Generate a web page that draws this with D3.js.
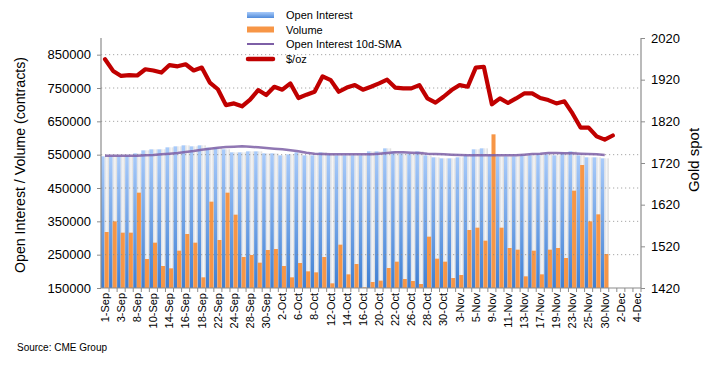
<!DOCTYPE html>
<html><head><meta charset="utf-8">
<script src="https://cdn.jsdelivr.net/npm/d3@7"></script>
<style>
body{margin:0;background:#fff;}
svg text{font-family:"Liberation Sans",Arial,sans-serif;fill:#000;}
</style></head>
<body><svg id="c" width="713" height="370"></svg>
<script>
const dates = ["1-Sep","2-Sep","3-Sep","4-Sep","8-Sep","9-Sep","10-Sep","11-Sep","14-Sep","15-Sep","16-Sep","17-Sep","18-Sep","21-Sep","22-Sep","23-Sep","24-Sep","25-Sep","28-Sep","29-Sep","30-Sep",
"1-Oct","2-Oct","5-Oct","6-Oct","7-Oct","8-Oct","9-Oct","12-Oct","13-Oct","14-Oct","15-Oct","16-Oct","19-Oct","20-Oct","21-Oct","22-Oct","23-Oct","26-Oct","27-Oct","28-Oct","29-Oct","30-Oct",
"2-Nov","3-Nov","4-Nov","5-Nov","6-Nov","9-Nov","10-Nov","11-Nov","12-Nov","13-Nov","16-Nov","17-Nov","18-Nov","19-Nov","20-Nov","23-Nov","24-Nov","25-Nov","27-Nov","30-Nov",
"1-Dec","2-Dec","3-Dec","4-Dec"];
const openInterest = [545000,545000,545000,547000,554000,563000,566000,566000,572000,575000,578000,575000,578000,571000,571000,566000,557000,557000,560000,560000,554000,
554000,548000,551000,557000,548000,548000,557000,551000,548000,548000,548000,548000,560000,560000,569000,560000,554000,554000,560000,548000,542000,539000,
539000,542000,548000,566000,569000,548000,545000,545000,545000,548000,548000,551000,551000,548000,557000,560000,548000,542000,542000,539000];
const volume = [318000,350000,316000,316000,436000,237000,286000,216000,209000,262000,312000,286000,182000,409000,294000,436000,370000,243000,249000,226000,264000,
267000,216000,182000,225000,200000,197000,243000,164000,280000,191000,222000,152000,168000,172000,210000,229000,177000,171000,162000,304000,238000,229000,
180000,189000,324000,331000,292000,611000,331000,270000,265000,185000,262000,191000,265000,270000,240000,442000,519000,350000,371000,252000];
const oiSma = [547000,547000,547000,547000,547000,548000,549000,551000,553000,555000,558000,561000,565000,568000,571000,573000,574000,575000,574000,572000,570000,
568000,566000,563000,560000,556000,553000,552000,551000,551000,551000,551000,551000,551000,553000,555000,557000,557000,556000,555000,553000,552000,551000,
550000,549000,548000,548000,548000,548000,548000,548000,548000,550000,552000,553000,555000,555000,554000,554000,553000,552000,551000,549000];
const goldSpot = [1969,1941,1929,1931,1930,1945,1942,1937,1955,1952,1957,1942,1949,1913,1897,1859,1863,1856,1872,1895,1883,
1903,1896,1911,1876,1884,1891,1928,1919,1891,1901,1907,1896,1903,1911,1920,1901,1899,1899,1907,1875,1865,1879,
1895,1907,1903,1949,1951,1861,1875,1864,1875,1887,1887,1876,1871,1863,1868,1839,1805,1805,1784,1776,1786];
const leftTicks = [150000,250000,350000,450000,550000,650000,750000,850000];
const rightTicks = [1420,1520,1620,1720,1820,1920,2020];
const legendLabels = ["Open Interest","Volume","Open Interest 10d-SMA","$/oz"];

const svg = d3.select("#c");
const X0 = 101, X1 = 641, Y0 = 288, Y1 = 38;
const x = d3.scaleBand().domain(dates).range([X0, X1]).padding(0);
const yL = d3.scaleLinear().domain([150000, 900000]).range([Y0, Y1]);
const yR = d3.scaleLinear().domain([1420, 2020]).range([Y0, Y1]);
const bw = x.bandwidth();

const defs = svg.append("defs");
const gB = defs.append("linearGradient").attr("id","gBlue").attr("x1",0).attr("y1",0).attr("x2",0).attr("y2",1);
gB.append("stop").attr("offset","0%").attr("stop-color","#a9cbfa");
gB.append("stop").attr("offset","100%").attr("stop-color","#3f7fd3");
const gG = defs.append("linearGradient").attr("id","gGray").attr("x1",0).attr("y1",0).attr("x2",1).attr("y2",0);
gG.append("stop").attr("offset","0%").attr("stop-color","#d6dbe3");
gG.append("stop").attr("offset","50%").attr("stop-color","#f6f6f6");
gG.append("stop").attr("offset","100%").attr("stop-color","#d9d9d9");

// bars
const split = 0.45;
const bars = svg.append("g");
openInterest.forEach((v,i)=>{
  const bx = x(dates[i]);
  bars.append("rect").attr("x",bx).attr("y",yL(v)).attr("width",bw*split).attr("height",Y0-yL(v)).attr("fill","url(#gBlue)");
  bars.append("rect").attr("x",bx+bw*split).attr("y",yL(v)).attr("width",bw*(1-split)).attr("height",Y0-yL(v)).attr("fill","url(#gGray)");
});
volume.forEach((v,i)=>{
  const bx = x(dates[i]);
  bars.append("rect").attr("x",bx+bw*split).attr("y",yL(v)).attr("width",bw*(1-split)-0.4).attr("height",Y0-yL(v)).attr("fill","#f79646");
});

// gridlines
const grid = svg.append("g");
leftTicks.filter(t=>t>150000).forEach(t=>{
  grid.append("line").attr("x1",X0).attr("x2",X1).attr("y1",yL(t)).attr("y2",yL(t))
    .attr("stroke","#8a8a8a").attr("stroke-dasharray","1.2,2.8").attr("stroke-width",1).attr("opacity",0.75);
});

// SMA line
const lineL = d3.line().x((d,i)=>x(dates[i])+bw/2).y(d=>yL(d));
svg.append("path").datum(oiSma).attr("d",lineL).attr("fill","none").attr("stroke","#7d5fa6").attr("stroke-width",2.5).attr("opacity",0.85);

// gold line
const lineR = d3.line().x((d,i)=>x(dates[i])+bw/2).y(d=>yR(d));
svg.append("path").datum(goldSpot).attr("d",lineR).attr("fill","none").attr("stroke","#c00000").attr("stroke-width",4.2)
  .attr("stroke-linejoin","round").attr("stroke-linecap","round");

// axes
const axCol = "#8c8c8c";
const axL = svg.append("g").attr("transform",`translate(${X0},0)`)
  .call(d3.axisLeft(yL).tickValues(leftTicks).tickSize(4).tickPadding(6).tickFormat(d3.format("d")));
axL.select(".domain").attr("d",`M0,${Y1}V${Y0}`);
const axR = svg.append("g").attr("transform",`translate(${X1},0)`)
  .call(d3.axisRight(yR).tickValues(rightTicks).tickSize(4).tickPadding(6).tickFormat(d3.format("d")));
axR.select(".domain").attr("d",`M0,${Y1}V${Y0}`);
[axL,axR].forEach(a=>{
  a.selectAll(".domain").attr("stroke",axCol).attr("stroke-width",1.2);
  a.selectAll(".tick line").attr("stroke",axCol);
  a.selectAll("text").attr("font-size","13px").attr("font-family","Liberation Sans, Arial, sans-serif");
});
const axB = svg.append("g").attr("transform",`translate(0,${Y0})`)
  .call(d3.axisBottom(x).tickSize(0).tickFormat((d,i)=> i%2===0 ? d : ""));
axB.select(".domain").attr("stroke",axCol).attr("stroke-width",1.2).attr("d",`M${X0},0H${X1}`);
axB.selectAll(".tick text").attr("font-size","11px").attr("font-family","Liberation Sans, Arial, sans-serif")
  .attr("transform","rotate(-90)").attr("text-anchor","end").attr("dy","0.35em").attr("x",-5).attr("y",0);
// boundary tick marks
dates.forEach((d,i)=>{
  const bx = x(d)+bw;
  axB.append("line").attr("x1",bx).attr("x2",bx).attr("y1",0).attr("y2",4).attr("stroke",axCol);
});

// axis titles
svg.append("text").attr("transform","translate(25,165) rotate(-90)").attr("text-anchor","middle")
  .attr("font-size","14.2px").text("Open Interest / Volume (contracts)");
svg.append("text").attr("transform","translate(699,160) rotate(-90)").attr("text-anchor","middle")
  .attr("font-size","15px").text("Gold spot");

// legend
const lg = svg.append("g");
const rows = [15,29.5,44,59];
const gL = defs.append("linearGradient").attr("id","gLeg").attr("x1",0).attr("y1",0).attr("x2",0).attr("y2",1);
gL.append("stop").attr("offset","0%").attr("stop-color","#a9cbfa");
gL.append("stop").attr("offset","100%").attr("stop-color","#4f8ada");
lg.append("rect").attr("x",247).attr("y",rows[0]-3).attr("width",27).attr("height",6).attr("fill","url(#gLeg)");
lg.append("rect").attr("x",247).attr("y",rows[1]-3).attr("width",27).attr("height",6).attr("fill","#f79646");
lg.append("line").attr("x1",247).attr("x2",274).attr("y1",rows[2]).attr("y2",rows[2]).attr("stroke","#7d5fa6").attr("stroke-width",2);
lg.append("line").attr("x1",248).attr("x2",273).attr("y1",rows[3]).attr("y2",rows[3]).attr("stroke","#c00000").attr("stroke-width",4.5).attr("stroke-linecap","round");
legendLabels.forEach((t,i)=>{
  lg.append("text").attr("x",286).attr("y",rows[i]+4).attr("font-size","11px").text(t);
});

// source
svg.append("text").attr("x",17).attr("y",351).attr("font-size","10px").text("Source: CME Group");
</script>
</body></html>
